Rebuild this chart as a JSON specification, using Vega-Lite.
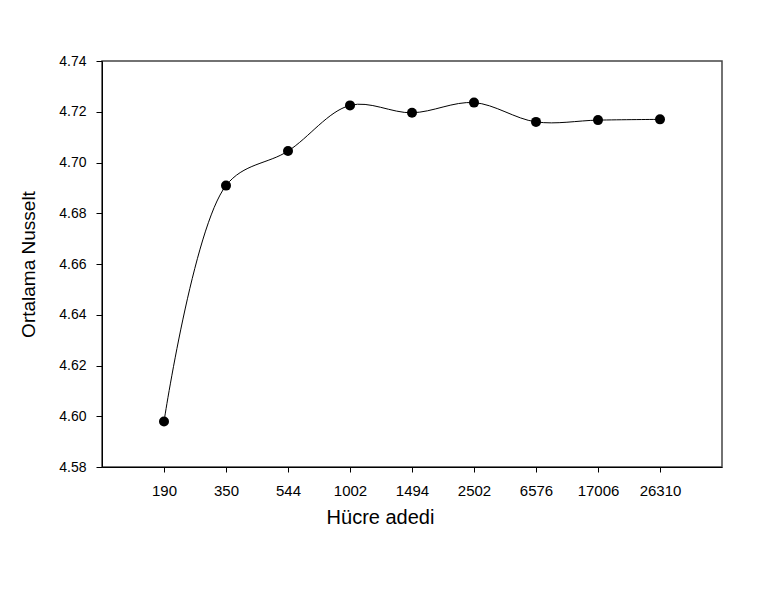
{
  "$schema": "https://vega.github.io/schema/vega-lite/v6.json",
  "autosize": "none",
  "width": 620,
  "height": 406,
  "padding": {"left": 102, "top": 61, "right": 48, "bottom": 123},
  "background": "white",
  "data": {
    "values": [
      {"cells": "190", "nu": 4.5979},
      {"cells": "350", "nu": 4.6909},
      {"cells": "544", "nu": 4.7045},
      {"cells": "1002", "nu": 4.7225},
      {"cells": "1494", "nu": 4.7196},
      {"cells": "2502", "nu": 4.7236},
      {"cells": "6576", "nu": 4.7160},
      {"cells": "17006", "nu": 4.7167},
      {"cells": "26310", "nu": 4.7170}
    ]
  },
  "encoding": {
    "x": {
      "field": "cells",
      "type": "ordinal",
      "sort": null,
      "scale": {"type": "point", "padding": 1},
      "axis": {
        "title": "Hücre adedi",
        "labelAngle": 0,
        "tickSize": 5,
        "labelPadding": 11,
        "labelFontSize": 15,
        "titleFontSize": 20,
        "titleFontWeight": "normal",
        "titlePadding": 9,
        "titleX": 278
      }
    },
    "y": {
      "field": "nu",
      "type": "quantitative",
      "scale": {"domain": [4.58, 4.74], "nice": false, "zero": false},
      "axis": {
        "title": "Ortalama Nusselt",
        "values": [4.58, 4.60, 4.62, 4.64, 4.66, 4.68, 4.70, 4.72, 4.74],
        "format": ".2f",
        "tickSize": 6,
        "labelPadding": 10,
        "labelFontSize": 14,
        "titleFontSize": 19,
        "titleFontWeight": "normal",
        "titlePadding": 20
      }
    }
  },
  "layer": [
    {"mark": {"type": "line", "interpolate": "catmull-rom", "color": "black", "strokeWidth": 1}},
    {"mark": {"type": "point", "filled": true, "color": "black", "size": 100, "opacity": 1}}
  ],
  "config": {
    "font": "Liberation Sans",
    "view": {"stroke": "#444", "strokeWidth": 1.5},
    "axis": {
      "grid": false,
      "domainColor": "black",
      "tickColor": "black",
      "labelColor": "black",
      "titleColor": "black",
      "labelFont": "Liberation Sans",
      "titleFont": "Liberation Sans"
    }
  }
}
